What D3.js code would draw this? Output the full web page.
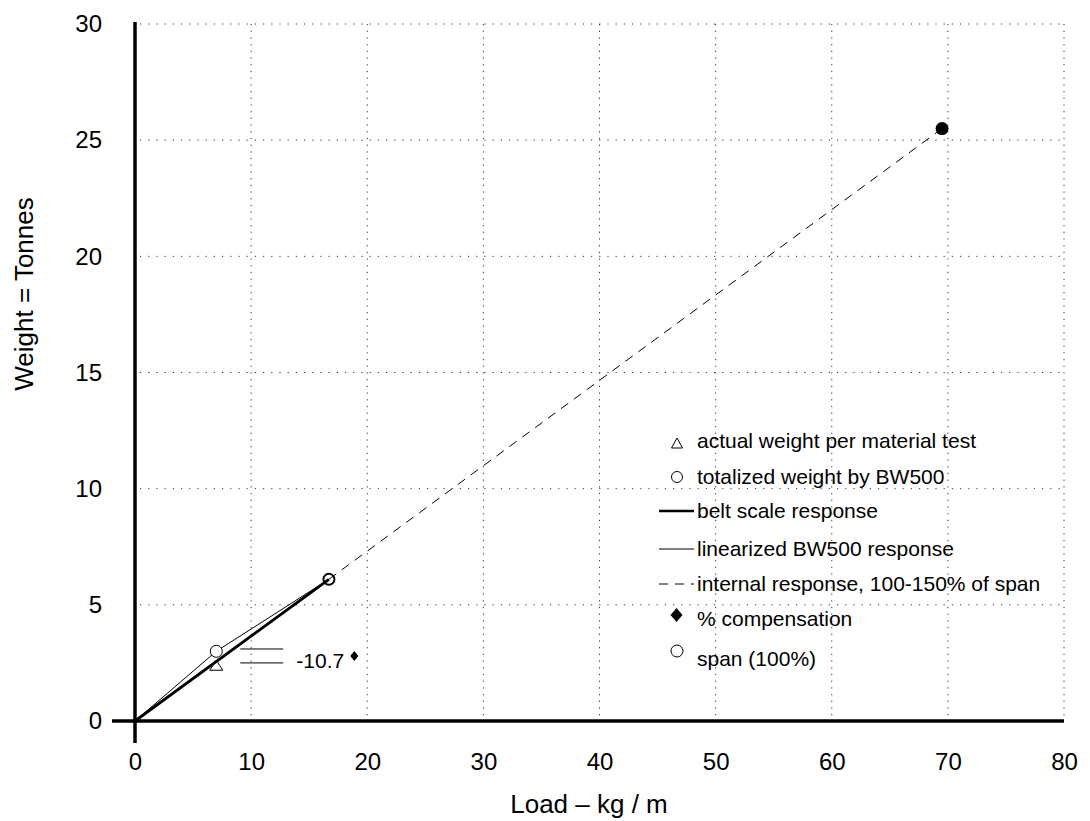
<!DOCTYPE html>
<html><head><meta charset="utf-8">
<script src="https://cdn.jsdelivr.net/npm/d3@7"></script>
<style>
body{margin:0;background:#fff;}
text{font-family:"Liberation Sans",Arial,Helvetica,sans-serif;fill:#000;}
</style></head>
<body><svg id="chart" width="1090" height="821"></svg>
<script>
const xTicks = [0,10,20,30,40,50,60,70,80];
const yTicks = [0,5,10,15,20,25,30];
const beltScale = [[0,0],[16.7,6.1]];
const linearized = [[0,0],[7,3.0],[16.7,6.1]];
const internal = [[16.7,6.1],[69.5,25.5]];
const actualPts = [[7,2.4]];
const totalizedPts = [[7,3.0]];
const spanPts = [[16.7,6.1]];
const upperPts = [[69.5,25.5]];
const compensation = [{x:7, yTop:3.1, yBot:2.5, label:"-10.7"}];
const legendItems = ["actual weight per material test","totalized weight by BW500","belt scale response","linearized BW500 response","internal response, 100-150% of span","% compensation","span (100%)"];

const svg = d3.select("#chart");
const x = d3.scaleLinear().domain([0,80]).range([135,1064]);
const y = d3.scaleLinear().domain([0,30]).range([721,24]);
const line = d3.line().x(d=>x(d[0])).y(d=>y(d[1]));
const FONT = "Liberation Sans, Arial, sans-serif";

// grid
svg.append("g").selectAll("line").data(xTicks.filter(d=>d>0)).join("line")
  .attr("x1",d=>x(d)).attr("x2",d=>x(d)).attr("y1",y(30)).attr("y2",716)
  .attr("stroke","#333").attr("stroke-width",1).attr("stroke-dasharray","1.2,5.5");
svg.append("g").selectAll("line").data(yTicks.filter(d=>d>0)).join("line")
  .attr("x1",140).attr("x2",x(80)).attr("y1",d=>y(d)).attr("y2",d=>y(d))
  .attr("stroke","#333").attr("stroke-width",1).attr("stroke-dasharray","1.2,7");

// axes
svg.append("line").attr("x1",112).attr("x2",x(80)).attr("y1",y(0)).attr("y2",y(0)).attr("stroke","#000").attr("stroke-width",3.5);
svg.append("line").attr("x1",x(0)).attr("x2",x(0)).attr("y1",y(30)-2).attr("y2",743).attr("stroke","#000").attr("stroke-width",3.5);

const xAxis = d3.axisBottom(x).tickValues(xTicks).tickSize(0).tickPadding(0);
const gx = svg.append("g").attr("transform","translate(0,770)").call(xAxis);
gx.select(".domain").remove();
gx.selectAll("text").attr("font-size",24).attr("dy",0).attr("y",0).attr("font-family",FONT);

const yAxis = d3.axisLeft(y).tickValues(yTicks).tickSize(0).tickPadding(0);
const gy = svg.append("g").attr("transform","translate(102,0)").call(yAxis);
gy.select(".domain").remove();
gy.selectAll("text").attr("font-size",24).attr("font-family",FONT);

svg.append("text").attr("x",589).attr("y",813).attr("text-anchor","middle").attr("font-size",26).text("Load – kg / m");
svg.append("text").attr("transform","translate(33,294) rotate(-90)").attr("text-anchor","middle").attr("font-size",26).text("Weight = Tonnes");

// lines
svg.append("path").datum(internal).attr("d",line).attr("fill","none").attr("stroke","#000").attr("stroke-width",1).attr("stroke-dasharray","9,7");
svg.append("path").datum(linearized).attr("d",line).attr("fill","none").attr("stroke","#000").attr("stroke-width",1);
svg.append("path").datum(beltScale).attr("d",line).attr("fill","none").attr("stroke","#000").attr("stroke-width",2.8);

// markers
const triPath = (w,h)=>`M0,${-h/2}L${w/2},${h/2}L${-w/2},${h/2}Z`;
const diaPath = (w,h)=>`M0,${-h/2}L${w/2},0L0,${h/2}L${-w/2},0Z`;
svg.selectAll(".act").data(actualPts).join("path")
  .attr("d",triPath(13,10)).attr("transform",d=>`translate(${x(d[0])},${y(d[1])})`)
  .attr("fill","none").attr("stroke","#000").attr("stroke-width",1);
svg.selectAll(".tot").data(totalizedPts).join("circle")
  .attr("cx",d=>x(d[0])).attr("cy",d=>y(d[1])).attr("r",6).attr("fill","#fff").attr("stroke","#000").attr("stroke-width",1);
svg.selectAll(".span").data(spanPts).join("circle")
  .attr("cx",d=>x(d[0])).attr("cy",d=>y(d[1])).attr("r",5.5).attr("fill","none").attr("stroke","#000").attr("stroke-width",2);
svg.selectAll(".up").data(upperPts).join("circle")
  .attr("cx",d=>x(d[0])).attr("cy",d=>y(d[1])).attr("r",6.5).attr("fill","#000");

// compensation annotation
compensation.forEach(c=>{
  const x0 = x(c.x);
  [c.yTop,c.yBot].forEach(v=>{
    svg.append("line").attr("x1",x0+24).attr("x2",x0+67).attr("y1",y(v)).attr("y2",y(v)).attr("stroke","#000").attr("stroke-width",1);
  });
  svg.append("text").attr("x",x0+80).attr("y",y(c.yBot)+5).attr("font-size",21).text(c.label);
  svg.append("path").attr("d",diaPath(8,10))
    .attr("transform",`translate(${x0+138},${y(c.yTop)+7})`).attr("fill","#000");
});

// legend
const lg = svg.append("g");
const rowsY = [441,477,511,549,584,619,659];
const lx = 697;
legendItems.forEach((t,i)=>{
  lg.append("text").attr("x",lx).attr("y",rowsY[i]).attr("dy","0.35em").attr("font-size",21).text(t);
});
lg.append("path").attr("d",triPath(11,10)).attr("transform",`translate(677,${rowsY[0]+2})`).attr("fill","none").attr("stroke","#000").attr("stroke-width",1);
lg.append("circle").attr("cx",677).attr("cy",rowsY[1]).attr("r",5.5).attr("fill","none").attr("stroke","#000").attr("stroke-width",1);
lg.append("line").attr("x1",659).attr("x2",694).attr("y1",rowsY[2]).attr("y2",rowsY[2]).attr("stroke","#000").attr("stroke-width",2.5);
lg.append("line").attr("x1",659).attr("x2",694).attr("y1",rowsY[3]).attr("y2",rowsY[3]).attr("stroke","#000").attr("stroke-width",1);
lg.append("line").attr("x1",659).attr("x2",694).attr("y1",rowsY[4]).attr("y2",rowsY[4]).attr("stroke","#000").attr("stroke-width",1).attr("stroke-dasharray","9,7");
lg.append("path").attr("d",diaPath(12,14)).attr("transform",`translate(676.5,${rowsY[5]-4})`).attr("fill","#000");
lg.append("circle").attr("cx",677).attr("cy",rowsY[6]-8).attr("r",6).attr("fill","none").attr("stroke","#000").attr("stroke-width",1);
</script></body></html>
